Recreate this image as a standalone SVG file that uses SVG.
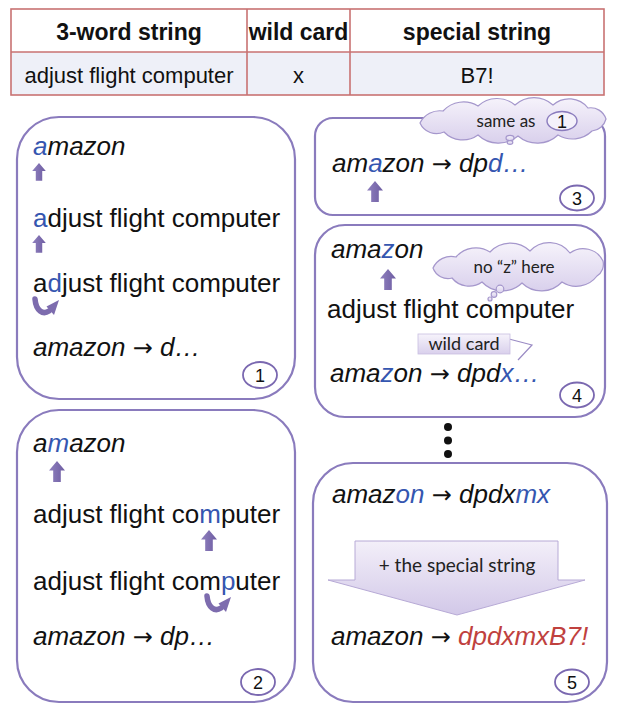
<svg xmlns="http://www.w3.org/2000/svg" width="629" height="720" viewBox="0 0 629 720">
<style>
.hdr{font-family:"Liberation Sans",Arial,sans-serif;font-weight:bold;font-size:23px;fill:#111;text-anchor:middle}
.cell{font-family:"Liberation Sans",Arial,sans-serif;font-size:22px;fill:#111;text-anchor:middle}
.t{font-family:"Liberation Sans",Arial,sans-serif;font-size:26px;fill:#111}
.it{font-style:italic}
.ar{font-family:"DejaVu Sans",sans-serif;font-style:normal;font-size:24px}
.b{fill:#3556b0}
.r{fill:#c0413e}
.panel{fill:#fff;stroke:#8a7bbd;stroke-width:2.2}
.num{fill:#fff;stroke:#7a68b0;stroke-width:1.8}
.numt{font-family:"Liberation Sans",Arial,sans-serif;font-size:18px;fill:#111;text-anchor:middle}
.soft{font-family:Lato,"Open Sans",sans-serif;font-size:17px;fill:#222;text-anchor:middle}
.cloud{fill:url(#cg);stroke:#a597cc;stroke-width:1.2}
.uparrow{fill:url(#ug)}
</style>
<defs>
<linearGradient id="cg" x1="0" y1="0" x2="0" y2="1">
<stop offset="0" stop-color="#f6f3fb"/>
<stop offset="1" stop-color="#d9d0ec"/>
</linearGradient>
<linearGradient id="ag" x1="0" y1="0" x2="0" y2="1">
<stop offset="0" stop-color="#f3eff9"/>
<stop offset="1" stop-color="#d2c8e8"/>
</linearGradient>
<linearGradient id="ug" x1="0" y1="0" x2="1" y2="0">
<stop offset="0" stop-color="#8f80be"/>
<stop offset="1" stop-color="#6e5da2"/>
</linearGradient>
<path id="up" d="M0,0 L8,9.5 L3.8,9.5 L3.8,21 L-3.8,21 L-3.8,9.5 L-8,9.5 Z"/>
<g id="curl">
<path d="M2,1 C3,13 10,17 16,13" fill="none" stroke="#7d6cae" stroke-width="5.5" stroke-linecap="round"/>
<polygon points="26,2 13.5,8.5 21,17" fill="#7d6cae"/>
</g>
</defs>
<rect width="629" height="720" fill="#fff"/>

<g id="table">
<rect x="11" y="9" width="593" height="43" fill="#fff"/>
<rect x="11" y="52" width="593" height="43" fill="#eef0f8"/>
<g fill="none" stroke="#c87272" stroke-width="1.6">
<rect x="11" y="9" width="593" height="86"/>
<line x1="11" y1="52" x2="604" y2="52"/>
<line x1="247" y1="9" x2="247" y2="95"/>
<line x1="350" y1="9" x2="350" y2="95"/>
</g>
<text class="hdr" x="129" y="40">3-word string</text>
<text class="hdr" x="298.5" y="40">wild card</text>
<text class="hdr" x="477" y="40">special string</text>
<text class="cell" x="129" y="83">adjust flight computer</text>
<text class="cell" x="298.5" y="83">x</text>
<text class="cell" x="477" y="83">B7!</text>
</g>

<g id="panel1">
<rect class="panel" x="17" y="117" width="278" height="282" rx="42"/>
<text class="t it" x="33" y="155"><tspan class="b">a</tspan>mazon</text>
<use href="#up" class="uparrow" transform="translate(39,163) scale(0.85)"/>
<text class="t" x="33" y="227"><tspan class="b">a</tspan>djust flight computer</text>
<use href="#up" class="uparrow" transform="translate(39,235) scale(0.85)"/>
<text class="t" x="33" y="292">a<tspan class="b">d</tspan>just flight computer</text>
<use href="#curl" transform="translate(33,298)"/>
<text class="t it" x="33" y="356">amazon <tspan class="ar">→</tspan> d…</text>
<ellipse class="num" cx="260" cy="375" rx="17" ry="13"/>
<text class="numt" x="260" y="381.5">1</text>
</g>

<g id="panel2">
<rect class="panel" x="17" y="410" width="278" height="292" rx="42"/>
<text class="t it" x="33" y="452">a<tspan class="b">m</tspan>azon</text>
<use href="#up" class="uparrow" transform="translate(57,461)"/>
<text class="t" x="33" y="523">adjust flight co<tspan class="b">m</tspan>puter</text>
<use href="#up" class="uparrow" transform="translate(209,530)"/>
<text class="t" x="33" y="590">adjust flight com<tspan class="b">p</tspan>uter</text>
<use href="#curl" transform="translate(205,595)"/>
<text class="t it" x="33" y="645">amazon <tspan class="ar">→</tspan> dp…</text>
<ellipse class="num" cx="258" cy="682" rx="17" ry="13"/>
<text class="numt" x="258" y="688.5">2</text>
</g>

<g id="panel3">
<rect class="panel" x="315" y="118" width="290" height="97" rx="18"/>
<text class="t it" x="332" y="172">am<tspan class="b">a</tspan>zon <tspan class="ar">→</tspan> dp<tspan class="b">d…</tspan></text>
<use href="#up" class="uparrow" transform="translate(375,181)"/>
<ellipse class="num" cx="577" cy="198" rx="17" ry="12.5"/>
<text class="numt" x="577" y="204.5">3</text>
</g>

<g id="panel4">
<rect class="panel" x="315" y="225" width="290" height="192" rx="30"/>
<text class="t it" x="331" y="258">ama<tspan class="b">z</tspan>on</text>
<use href="#up" class="uparrow" transform="translate(388,269)"/>
<text class="t" x="327" y="318">adjust flight computer</text>
<text class="t it" x="330" y="382">ama<tspan class="b">z</tspan>on <tspan class="ar">→</tspan> dpd<tspan class="b">x…</tspan></text>
<ellipse class="num" cx="577" cy="395" rx="17" ry="12.5"/>
<text class="numt" x="577" y="401.5">4</text>
</g>

<g id="cloud-same">
<path class="cloud" d="M420,123 A22 22 0 0 1 443,111 A28 28 0 0 1 478,106 A28 28 0 0 1 515,105 A28 28 0 0 1 553,105 A24 24 0 0 1 588,108 A16 16 0 0 1 606,119 A16 16 0 0 1 592,131 A28 28 0 0 1 558,135 A30 30 0 0 1 518,136 A30 30 0 0 1 478,135 A26 26 0 0 1 444,132 A18 18 0 0 1 420,123 Z"/>
<ellipse class="cloud" cx="510" cy="138" rx="4" ry="2.6"/>
<ellipse class="cloud" cx="510" cy="142.5" rx="2.8" ry="1.8"/>
<text class="soft" x="506" y="127">same as</text>
<ellipse cx="562" cy="121" rx="15" ry="9.5" fill="#f4f1fa" stroke="#8a7bbd" stroke-width="1.4"/>
<text class="numt" x="562" y="127.5">1</text>
</g>

<g id="cloud-noz">
<path class="cloud" d="M433,268 A20 20 0 0 1 456,257 A26 26 0 0 1 490,252 A28 28 0 0 1 530,251 A26 26 0 0 1 570,253 A22 22 0 0 1 603,261 A14 14 0 0 1 597,276 A26 26 0 0 1 562,282 A28 28 0 0 1 522,283 A28 28 0 0 1 482,282 A22 22 0 0 1 452,278 A16 16 0 0 1 433,268 Z"/>
<circle class="cloud" cx="500" cy="289" r="3.8"/>
<circle class="cloud" cx="494" cy="294.5" r="2.8"/>
<circle class="cloud" cx="490" cy="299" r="2"/>
<text class="soft" x="514" y="273">no “z” here</text>
</g>

<g id="wildcard-label">
<polyline points="509,339 532,345 518,360" fill="none" stroke="#9a8bc4" stroke-width="1.2"/>
<rect x="418" y="334" width="92" height="20" fill="url(#cg)" stroke="#c9bfe0" stroke-width="0.8"/>
<text class="soft" x="464" y="350" style="font-size:18px">wild card</text>
</g>

<g id="ellipsis" fill="#111">
<circle cx="448" cy="427" r="4"/>
<circle cx="448" cy="440.5" r="4"/>
<circle cx="448" cy="454" r="4"/>
</g>

<g id="panel5">
<rect class="panel" x="313" y="463" width="294" height="239" rx="40"/>
<text class="t it" x="332" y="503">amaz<tspan class="b">on</tspan> <tspan class="ar">→</tspan> dpdx<tspan class="b">mx</tspan></text>
<polygon points="355,541 558,541 558,580 585,580 457,615 328,580 355,580" fill="url(#ag)" stroke="#b7aad6" stroke-width="1"/>
<text class="soft" x="457" y="572" style="font-size:19px">+ the special string</text>
<text class="t it" x="331" y="645">amazon <tspan class="ar">→</tspan> <tspan class="r">dpdxmxB7!</tspan></text>
<ellipse class="num" cx="572" cy="682" rx="17" ry="12.5"/>
<text class="numt" x="572" y="688.5">5</text>
</g>
</svg>
